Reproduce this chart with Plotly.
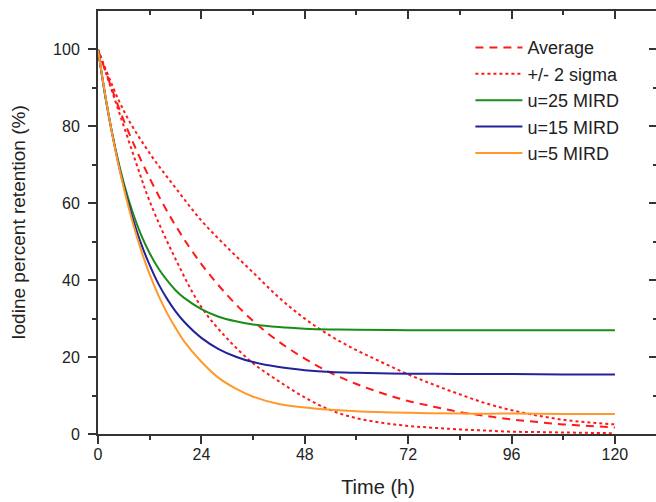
import plotly.graph_objects as go

# ---- data ----
t_red = [0, 6, 12, 18, 24, 30, 36, 42, 48, 54, 60, 66, 72, 78, 84, 90, 96, 102, 108, 114, 120]
average = [100, 81.5, 66.5, 54.2, 44.2, 36.1, 29.4, 24.0, 19.6, 15.9, 13.0, 10.6, 8.6, 7.1, 5.7, 4.7, 3.8, 3.1, 2.5, 2.1, 1.7]
upper_2sigma = [100, 84.0, 73.0, 64.0, 55.5, 48.5, 42.0, 35.5, 30.0, 25.5, 21.8, 18.6, 15.5, 12.8, 10.3, 8.0, 6.2, 4.8, 3.7, 3.0, 2.5]

t_low = [0, 3, 6, 9, 12, 18, 24, 30, 36, 42, 48, 54, 60, 66, 72, 78, 84, 90, 96, 102, 108, 114, 120]
lower_2sigma = [100, 90, 80, 70, 60.5, 45.5, 33.0, 24.8, 18.4, 13.7, 9.5, 6.2, 4.1, 2.9, 2.1, 1.6, 1.2, 0.9, 0.6, 0.5, 0.4, 0.3, 0.2]

t_mird = [0, 2, 4, 6, 8, 10, 12, 14, 16, 18, 20, 24, 28, 32, 36, 42, 48, 54, 60, 72, 84, 96, 108, 120]
u25 = [100, 85.8, 74.4, 65.2, 57.8, 51.8, 47.0, 43.1, 40.0, 37.4, 35.4, 32.5, 30.5, 29.3, 28.5, 27.8, 27.4, 27.2, 27.1, 27.0, 27.0, 27.0, 27.0, 27.0]
u15 = [100, 85.9, 74.2, 64.4, 56.3, 49.5, 43.9, 39.1, 35.2, 31.9, 29.2, 25.0, 22.1, 20.1, 18.7, 17.4, 16.6, 16.1, 15.9, 15.7, 15.6, 15.6, 15.5, 15.5]
u5 = [100, 86.0, 74.0, 63.9, 55.2, 47.8, 41.5, 36.1, 31.5, 27.6, 24.1, 18.8, 14.6, 11.8, 9.7, 7.8, 6.9, 6.3, 5.9, 5.5, 5.3, 5.3, 5.2, 5.2]

x_ticks = [0, 24, 48, 72, 96, 120]
x_minor = [12, 36, 60, 84, 108]
y_ticks = [0, 20, 40, 60, 80, 100]
y_minor = [10, 30, 50, 70, 90]

RED = "#ff1a1a"
GREEN = "#1a8c1a"
BLUE = "#22229a"
ORANGE = "#ff9a2a"
AX = "#333333"
TXT = "#222222"
FONT = "Liberation Sans, Arial, sans-serif"

fig = go.Figure()
fig.add_trace(go.Scatter(x=t_red, y=average, name="Average", mode="lines", line_shape="spline",
                         line=dict(color=RED, width=2, dash="8px,6px")))
fig.add_trace(go.Scatter(x=t_red, y=upper_2sigma, name="+/- 2 sigma", mode="lines", line_shape="spline",
                         line=dict(color=RED, width=2, dash="3px,3px")))
fig.add_trace(go.Scatter(x=t_low, y=lower_2sigma, name="lower", mode="lines", line_shape="spline",
                         showlegend=False, line=dict(color=RED, width=2, dash="3px,3px")))
fig.add_trace(go.Scatter(x=t_mird, y=u25, name="u=25 MIRD", mode="lines", line_shape="spline",
                         line=dict(color=GREEN, width=2)))
fig.add_trace(go.Scatter(x=t_mird, y=u15, name="u=15 MIRD", mode="lines", line_shape="spline",
                         line=dict(color=BLUE, width=2)))
fig.add_trace(go.Scatter(x=t_mird, y=u5, name="u=5 MIRD", mode="lines", line_shape="spline",
                         line=dict(color=ORANGE, width=2)))
# empty trace to anchor mirror axes
fig.add_trace(go.Scatter(x=[None], y=[None], xaxis="x2", yaxis="y2", showlegend=False, hoverinfo="skip"))

xr = [0, 130.0]
yr = [0, 110]

fig.update_layout(
    width=658, height=502,
    margin=dict(l=98, r=0, t=11, b=68, autoexpand=False),
    paper_bgcolor="white", plot_bgcolor="white",
    font=dict(family=FONT, color=TXT),
    showlegend=True,
    legend=dict(x=0.665, y=0.957, xanchor="left", yanchor="top", bgcolor="rgba(0,0,0,0)",
                font=dict(size=18, family=FONT, color=TXT), itemwidth=47, tracegroupgap=0),
    xaxis=dict(range=xr, tickvals=x_ticks, ticks="outside", ticklen=8, tickwidth=2, tickcolor=AX,
               showline=True, linewidth=2, linecolor=AX, showgrid=False, zeroline=False, automargin=False,
               tickfont=dict(size=16, family=FONT, color=TXT), ticklabelstandoff=-3,
               minor=dict(tickvals=x_minor, ticks="outside", ticklen=4, tickwidth=2, tickcolor=AX),
               title=dict(text="Time (h)", font=dict(size=20, family=FONT, color=TXT), standoff=18)),
    yaxis=dict(range=yr, tickvals=y_ticks, ticks="outside", ticklen=8, tickwidth=2, tickcolor=AX,
               showline=True, linewidth=2, linecolor=AX, showgrid=False, zeroline=False, automargin=False,
               tickfont=dict(size=16, family=FONT, color=TXT), ticklabelstandoff=5,
               minor=dict(tickvals=y_minor, ticks="outside", ticklen=4, tickwidth=2, tickcolor=AX),
               title=dict(text="Iodine percent retention (%)", font=dict(size=19, family=FONT, color=TXT), standoff=22)),
    xaxis2=dict(range=xr, overlaying="x", side="top", anchor="y", tickvals=x_ticks, ticks="inside", ticklen=8,
                tickwidth=2, tickcolor=AX, showline=True, linewidth=2, linecolor=AX, showgrid=False,
                zeroline=False, showticklabels=False, automargin=False,
                minor=dict(tickvals=x_minor, ticks="inside", ticklen=4, tickwidth=2, tickcolor=AX)),
    yaxis2=dict(range=yr, overlaying="y", side="right", anchor="x", tickvals=y_ticks, ticks="inside", ticklen=9,
                tickwidth=2, tickcolor=AX, showline=False, showgrid=False, zeroline=False, showticklabels=False,
                automargin=False,
                minor=dict(tickvals=y_minor, ticks="inside", ticklen=5, tickwidth=2, tickcolor=AX)),
)

fig.write_html("out.html", config={"displayModeBar": False},
               post_script="document.body.style.margin='0';document.body.style.padding='0';"
                           "document.body.style.overflow='hidden';document.documentElement.style.overflow='hidden';")
